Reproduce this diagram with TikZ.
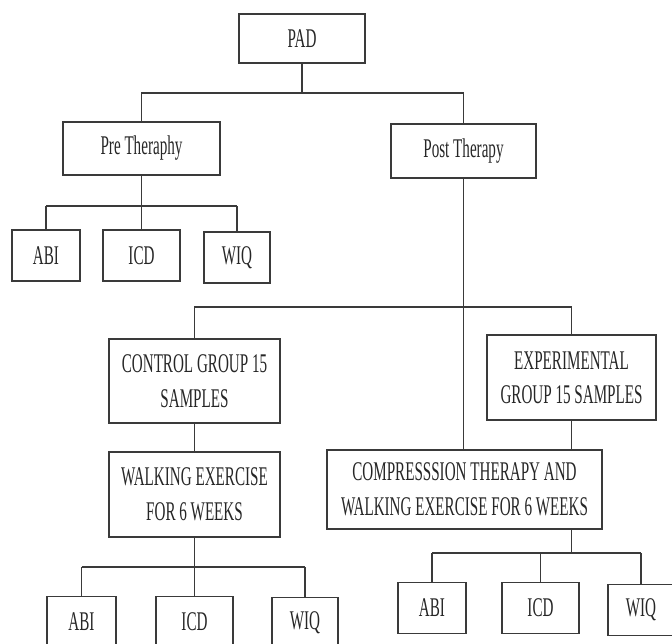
\documentclass[tikz,border=0pt]{standalone}
\usepackage{fontspec}
\setmainfont{Liberation Serif}[FakeStretch=0.56]
\usetikzlibrary{calc}
\definecolor{LineGray}{HTML}{3A3A3A}

\tikzset{
  box/.style 2 args={draw=LineGray, line width=1.6pt, inner sep=0pt,
    minimum width=#1pt, minimum height=#2pt, align=center,
    text=black!85, font=\fontsize{27}{34.5}\selectfont},
  link/.style={draw=LineGray, line width=1.2pt},
}

\begin{document}
\begin{tikzpicture}[x=1pt,y=-1pt]
    \clip (0,0) rectangle (672,644);
    % bus levels
    \coordinate (b1) at (0,93);
    \coordinate (b2) at (0,206);
    \coordinate (b3) at (0,307);
    \coordinate (b4) at (0,567);
    \coordinate (b5) at (0,553);

    \node[box={126}{49}] (PAD) at (302,38.5) {PAD};
    \node[box={157}{53}] (pre) at (141.5,148.5) {Pre Theraphy};
    \node[box={145}{54}] (post) at (463.5,151) {Post Therapy};
    \node[box={171}{84}] (control) at (194.5,381) {CONTROL GROUP 15\\SAMPLES};
    \node[box={171}{85}] (walk) at (194.5,494.5) {WALKING EXERCISE\\FOR 6 WEEKS};
    \node[box={169}{85}] (exp) at (571.5,377.5) {EXPERIMENTAL\\GROUP 15 SAMPLES};
    \node[box={275}{79}] (comp) at (464.5,489.5) {COMPRESSSION THERAPY AND\\WALKING EXERCISE FOR 6 WEEKS};

    \foreach \name/\x/\y/\w/\txt in {preABI/46/255.5/68/ABI, preICD/141.5/255.5/77/ICD, preWIQ/237/257.5/66/WIQ,
      ctlABI/81.5/622/69/ABI, ctlICD/194.5/622/77/ICD, ctlWIQ/305/623/66/WIQ,
      expABI/432/608/68/ABI, expICD/540.5/608/77/ICD, expWIQ/641/610/66/WIQ} {
     \node[box={\w}{51}] (\name) at (\x,\y) {\txt};
    }

    % PAD to pre/post
    \draw[link] (PAD.south) -- (PAD.south |- b1);
    \draw[link] (pre.north) -- (pre.north |- b1) -- (post.north |- b1) -- (post.north);
    % pre therapy tests
    \draw[link] (pre.south) -- (pre.south |- b2);
    \draw[link] (preABI.north |- b2) -- (preWIQ.north |- b2);
    \foreach \name in {preABI,preICD,preWIQ} {
     \draw[link] (\name.north) -- (\name.north |- b2);
    }
    % post therapy groups
    \draw[link] (post.south) -- (post.south |- comp.north);
    \draw[link] (control.north) -- (control.north |- b3) -- (exp.north |- b3) -- (exp.north);
    \draw[link] (control.south) -- (walk.north);
    \draw[link] (exp.south) -- (exp.south |- comp.north);
    % control group tests
    \draw[link] (walk.south) -- (walk.south |- b4);
    \draw[link] (ctlABI.north |- b4) -- (ctlWIQ.north |- b4);
    \foreach \name in {ctlABI,ctlICD,ctlWIQ} {
     \draw[link] (\name.north) -- (\name.north |- b4);
    }
    % experimental group tests
    \draw[link] (comp.south -| exp.south) -- (exp.south |- b5);
    \draw[link] (expABI.north |- b5) -- (expWIQ.north |- b5);
    \foreach \name in {expABI,expICD,expWIQ} {
     \draw[link] (\name.north) -- (\name.north |- b5);
    }
\end{tikzpicture}
\end{document}
